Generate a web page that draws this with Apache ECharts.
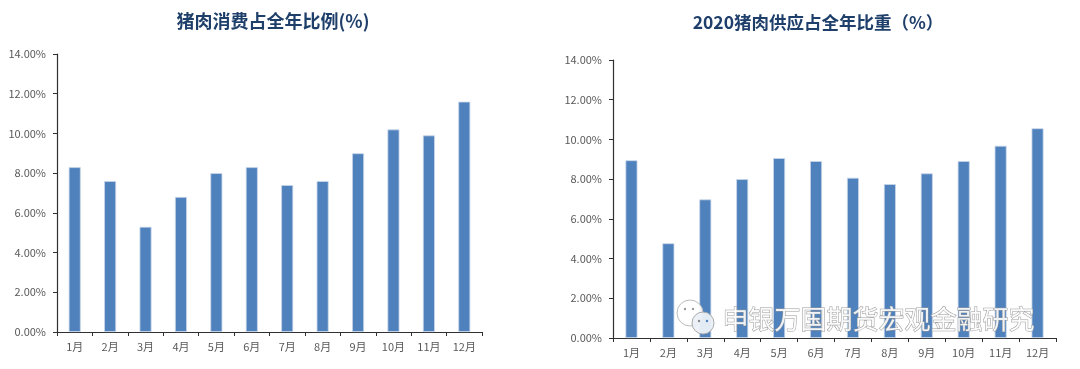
<!DOCTYPE html>
<html><head><meta charset="utf-8">
<script src="https://cdn.jsdelivr.net/npm/echarts@6/dist/echarts.min.js"></script>
<style>html,body{margin:0;padding:0;background:#fff}#c{width:1080px;height:369px}</style>
</head><body><div id="c"></div>
<script>
const months = ['1月','2月','3月','4月','5月','6月','7月','8月','9月','10月','11月','12月'];
const consumption = [8.3, 7.6, 5.3, 6.8, 8.0, 8.3, 7.4, 7.6, 9.0, 10.2, 9.9, 11.6];
const supply2020 = [8.95, 4.77, 6.98, 8.0, 9.06, 8.91, 8.07, 7.75, 8.29, 8.91, 9.68, 10.56];
const titleLeft = '猪肉消费占全年比例(%)';
const titleRight = '2020猪肉供应占全年比重（%）';
const watermark = '申银万国期货宏观金融研究';

const font = '"Noto Sans CJK SC", "Noto Sans", sans-serif';
const chart = echarts.init(document.getElementById('c'));
function xAxis(i){
  return {type:'category', gridIndex:i, data:months,
    axisLine:{lineStyle:{color:'#303030', width:1.2}},
    axisTick:{show:true, alignWithLabel:false, length:4, lineStyle:{color:'#303030'}},
    axisLabel:{color:'#595959', fontSize:11, fontFamily:font, margin:9}};
}
function yAxis(i){
  return {type:'value', gridIndex:i, min:0, max:14, interval:2,
    axisLine:{show:true, lineStyle:{color:'#303030', width:1.2}},
    axisTick:{show:true, length:4, inside:false, lineStyle:{color:'#303030'}},
    splitLine:{show:false},
    axisLabel:{color:'#595959', fontSize:11, fontFamily:font, margin:11,
      formatter:v=>v.toFixed(2)+'%'}};
}
const barStyle = {color:'#4F81BD', borderColor:'#C9D7EA', borderWidth:0.8};
chart.setOption({
  animation:false,
  title:[
    {text:titleLeft, left:268, top:7, textAlign:'center',
     textStyle:{fontSize:18, fontWeight:'bold', color:'#1F3F6B', fontFamily:font}},
    {text:titleRight, left:813, top:9, textAlign:'center',
     textStyle:{fontSize:17.5, fontWeight:'bold', color:'#1F3F6B', fontFamily:font}}
  ],
  grid:[
    {left:57, top:54, width:425, height:278},
    {left:613, top:60, width:443, height:278}
  ],
  xAxis:[xAxis(0), xAxis(1)],
  yAxis:[yAxis(0), yAxis(1)],
  series:[
    {type:'bar', xAxisIndex:0, yAxisIndex:0, data:consumption, barWidth:12, itemStyle:barStyle},
    {type:'bar', xAxisIndex:1, yAxisIndex:1, data:supply2020, barWidth:12, itemStyle:barStyle}
  ],
  graphic:[
    {type:'circle', shape:{cx:690, cy:313, r:13}, style:{fill:'rgba(255,255,255,0.9)', stroke:'#bbbbbb', lineWidth:1}, z:100},
    {type:'circle', shape:{cx:703, cy:323, r:11}, style:{fill:'rgba(235,240,248,0.95)', stroke:'#aaaaaa', lineWidth:1}, z:101},
    {type:'circle', shape:{cx:685, cy:309, r:1.2}, style:{fill:'#999'}, z:101},
    {type:'circle', shape:{cx:693, cy:309, r:1.2}, style:{fill:'#999'}, z:101},
    {type:'circle', shape:{cx:699, cy:321, r:1.2}, style:{fill:'#888'}, z:102},
    {type:'circle', shape:{cx:707, cy:321, r:1.2}, style:{fill:'#4F81BD'}, z:102},
    {type:'text', left:722, top:306, z:100,
     style:{text:watermark, fontSize:26, fontFamily:font, fill:'rgba(255,255,255,0.9)', stroke:'#9a9a9a', lineWidth:1}}
  ]
});
</script></body></html>
